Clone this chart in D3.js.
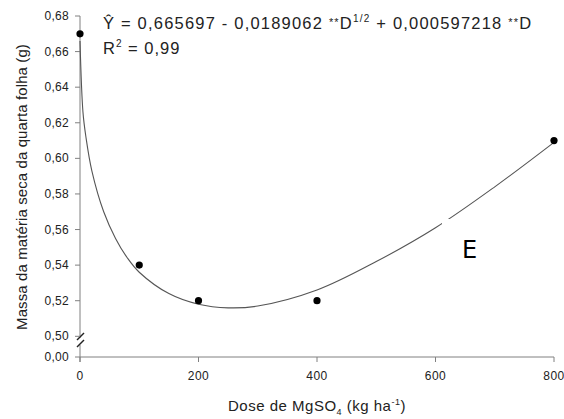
<!DOCTYPE html>
<meta charset="utf-8">
<head>
    <title>Massa da quarta folha</title>
    <script type="text/javascript" src="https://cdn.jsdelivr.net/npm/d3@7"></script>
    <style>
        body { margin: 0; background: #fff; }
        text { font-family: "Liberation Sans", Arial, sans-serif; fill: #222; }
    </style>
</head>
<body>
<script>

// observed points
var doses = [0, 100, 200, 400, 800]
var massa = [0.67, 0.54, 0.52, 0.52, 0.61]

// fitted curve
var curveDoses = [0, 5, 10, 20, 40, 60, 80, 100, 150, 200, 250, 300, 400, 500, 600, 700, 800]
var curveMassa = [0.666, 0.626, 0.612, 0.593, 0.570, 0.555, 0.544, 0.536, 0.524, 0.518, 0.516, 0.517, 0.526, 0.542, 0.561, 0.584, 0.609]

var xTicks = [0, 200, 400, 600, 800]
var yTicks = [0.50, 0.52, 0.54, 0.56, 0.58, 0.60, 0.62, 0.64, 0.66, 0.68]

var w = 564
var h = 419
var axisY = 357

var svg = d3.select("body").append("svg").attr("width", w).attr("height", h)

var x = d3.scaleLinear().domain([0, 800]).range([80, 554])
var y = d3.scaleLinear().domain([0.50, 0.68]).range([336.3, 16])
var fmt = function(d) { return d3.format(".2f")(d).replace(".", ",") }

var axisColor = "#808080"

// y axis (upper part, broken)
svg.append("line")
    .attr("x1", 80).attr("x2", 80)
    .attr("y1", y(0.68)).attr("y2", 338)
    .style("stroke", axisColor)
svg.append("line")
    .attr("x1", 80).attr("x2", 80)
    .attr("y1", 345).attr("y2", 362)
    .style("stroke", axisColor)
// break marks
svg.append("line").attr("x1", 77).attr("y1", 340).attr("x2", 84).attr("y2", 333)
    .style("stroke", "#222").style("stroke-width", 1.5)
svg.append("line").attr("x1", 77).attr("y1", 347).attr("x2", 84).attr("y2", 340)
    .style("stroke", "#222").style("stroke-width", 1.5)

svg.append("g").selectAll("line")
    .data(yTicks).enter()
    .append("line")
    .attr("x1", 75).attr("x2", 80)
    .attr("y1", function(d) { return y(d) }).attr("y2", function(d) { return y(d) })
    .style("stroke", axisColor)
svg.append("g").selectAll("text")
    .data(yTicks).enter()
    .append("text")
    .attr("x", 69)
    .attr("y", function(d) { return y(d) + 4 })
    .attr("text-anchor", "end")
    .style("font-size", "12px")
    .style("letter-spacing", "0.3px")
    .text(fmt)
svg.append("text")
    .attr("x", 69).attr("y", axisY + 4)
    .attr("text-anchor", "end")
    .style("font-size", "12px")
    .style("letter-spacing", "0.3px")
    .text("0,00")

// x axis
svg.append("line")
    .attr("x1", 75).attr("x2", x(800))
    .attr("y1", axisY).attr("y2", axisY)
    .style("stroke", axisColor)
svg.append("g").selectAll("line")
    .data(xTicks).enter()
    .append("line")
    .attr("x1", function(d) { return x(d) }).attr("x2", function(d) { return x(d) })
    .attr("y1", axisY).attr("y2", axisY + 5)
    .style("stroke", axisColor)
svg.append("g").selectAll("text")
    .data(xTicks).enter()
    .append("text")
    .attr("x", function(d) { return x(d) })
    .attr("y", 380)
    .attr("text-anchor", "middle")
    .style("font-size", "12px")
    .style("letter-spacing", "0.5px")
    .text(function(d) { return d })

// axis titles
var xt = svg.append("text")
    .attr("x", 317).attr("y", 411)
    .attr("text-anchor", "middle")
    .style("font-size", "15px")
    .style("letter-spacing", "0.5px")
xt.append("tspan").text("Dose de MgSO")
xt.append("tspan").attr("dy", 4).style("font-size", "9px").text("4")
xt.append("tspan").attr("dy", -4).text(" (kg ha")
xt.append("tspan").attr("dy", -6).style("font-size", "9px").text("-1")
xt.append("tspan").attr("dy", 6).text(")")

svg.append("text")
    .attr("transform", "translate(27,187) rotate(-90)")
    .attr("text-anchor", "middle")
    .style("font-size", "15px")
    .style("letter-spacing", "0.1px")
    .text("Massa da matéria seca da quarta folha (g)")

// fitted curve
var line = d3.line()
    .x(function(d, i) { return x(curveDoses[i]) })
    .y(function(d) { return y(d) })
    .curve(d3.curveCatmullRom)
svg.append("path")
    .datum(curveMassa)
    .attr("d", line)
    .style("fill", "none")
    .style("stroke", "#555")
    .style("stroke-width", 1.1)

// points
svg.append("g").selectAll("circle")
    .data(massa).enter()
    .append("circle")
    .attr("cx", function(d, i) { return x(doses[i]) })
    .attr("cy", function(d) { return y(d) })
    .attr("r", 3.6)
    .style("fill", "#000")

// equation
var eq = svg.append("text")
    .attr("x", 103).attr("y", 29)
    .style("font-size", "16.5px")
    .style("letter-spacing", "1.2px")
eq.append("tspan").text("Y\u0302 = 0,665697 - 0,0189062 ")
eq.append("tspan").attr("dy", -3).style("font-size", "11px").text("**")
eq.append("tspan").attr("dy", 3).text("D")
eq.append("tspan").attr("dy", -7).style("font-size", "10px").text("1/2")
eq.append("tspan").attr("dy", 7).text(" + 0,000597218 ")
eq.append("tspan").attr("dy", -3).style("font-size", "11px").text("**")
eq.append("tspan").attr("dy", 3).text("D")

var r2 = svg.append("text")
    .attr("x", 103).attr("y", 54)
    .style("font-size", "16.5px")
    .style("letter-spacing", "1px")
r2.append("tspan").text("R")
r2.append("tspan").attr("dy", -7).style("font-size", "10px").text("2")
r2.append("tspan").attr("dy", 7).text(" = 0,99")

// panel letter on white box
svg.append("rect")
    .attr("x", 442).attr("y", 219)
    .attr("width", 60).attr("height", 50)
    .style("fill", "#fff")
svg.append("text")
    .attr("x", 462).attr("y", 258)
    .style("font-size", "24px")
    .style("font-family", "'DejaVu Sans', sans-serif")
    .style("fill", "#000")
    .text("E")

</script>
</body>
</html>
